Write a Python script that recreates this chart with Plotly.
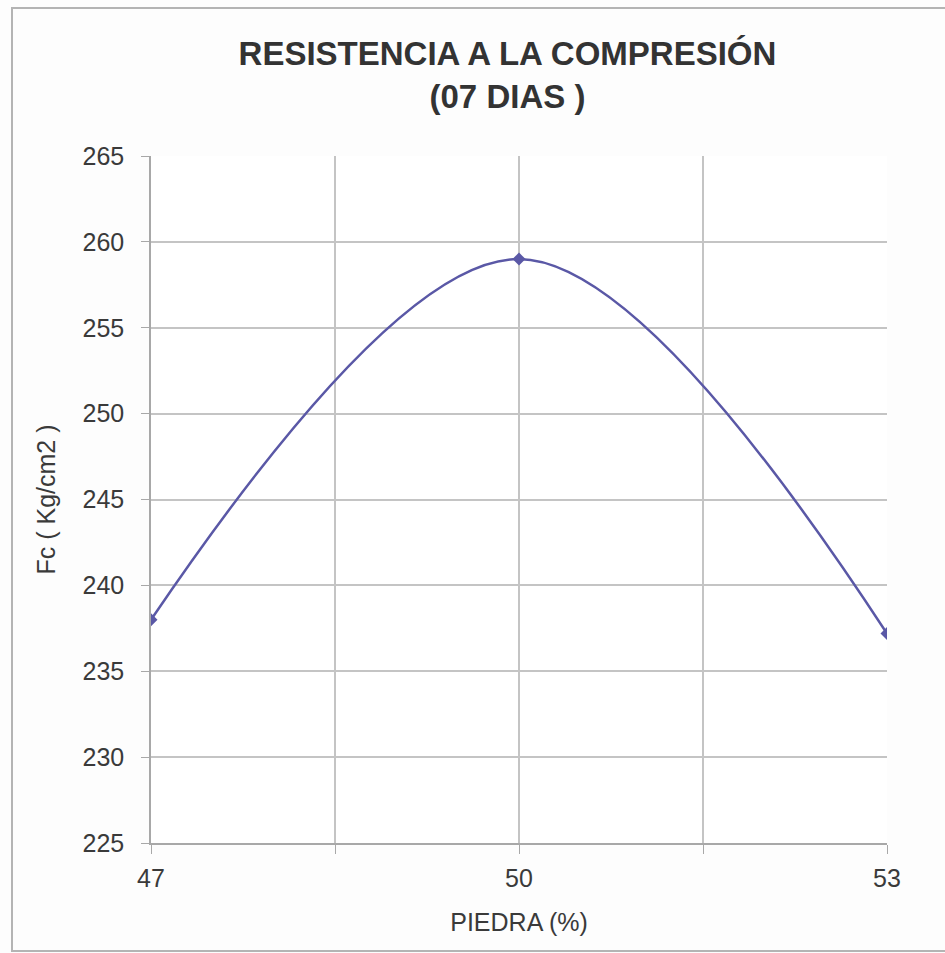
import plotly.graph_objects as go

piedra = [47, 50, 53]
fc = [238.0, 259.0, 237.2]
x_tickvals = [47, 48.5, 50, 51.5, 53]
x_ticktext = ["47", "", "50", "", "53"]
y_tickvals = [225, 230, 235, 240, 245, 250, 255, 260, 265]

title_text = "<b>RESISTENCIA A LA COMPRESIÓN<br>(07 DIAS )</b>"
x_title = "PIEDRA (%)"
y_title = "Fc ( Kg/cm2 )"

font_family = "Liberation Sans, Arial, sans-serif"
text_color = "#3a3a3a"
grid_color = "#c4c4c4"
line_color = "#5a58a6"

fig = go.Figure()
fig.add_trace(go.Scatter(
    x=piedra, y=fc, mode="lines+markers",
    line=dict(color=line_color, width=2.5, shape="spline", smoothing=1.0),
    marker=dict(symbol="diamond", size=10, color=line_color),
    showlegend=False,
))

fig.update_layout(
    width=945, height=953,
    margin=dict(l=151, r=58, t=156, b=110),
    paper_bgcolor="#fdfdfd",
    plot_bgcolor="#ffffff",
    font=dict(family=font_family, color=text_color, size=25),
    title=dict(
        text=title_text,
        x=0.537, xanchor="center",
        y=0.932, yanchor="top",
        font=dict(family=font_family, size=33, color="#333333"),
    ),
    xaxis=dict(
        range=[47, 53],
        tickmode="array", tickvals=x_tickvals, ticktext=x_ticktext,
        showgrid=True, gridcolor=grid_color, gridwidth=1.5,
        showline=True, linecolor="#a8a8a8", linewidth=1.5,
        ticks="outside", ticklen=9, tickcolor="#a8a8a8",
        ticklabelstandoff=3,
        zeroline=False,
        title=dict(text=x_title, font=dict(size=25), standoff=23),
        tickfont=dict(size=25),
    ),
    yaxis=dict(
        range=[225, 265],
        tickmode="array", tickvals=y_tickvals,
        showgrid=True, gridcolor=grid_color, gridwidth=1.5,
        showline=True, linecolor="#a8a8a8", linewidth=1.5,
        ticks="outside", ticklen=8, tickcolor="#a8a8a8",
        ticklabelstandoff=12,
        zeroline=False,
        title=dict(text=y_title, font=dict(size=25), standoff=20),
        tickfont=dict(size=25),
    ),
    shapes=[dict(
        type="rect", xref="paper", yref="paper",
        x0=(12 - 151) / 736, x1=(960 - 151) / 736,
        y0=(843 - 951) / 687, y1=(843 - 8) / 687,
        line=dict(color="#b4b4b4", width=2),
        fillcolor="rgba(0,0,0,0)", layer="below",
    )],
)

fig.write_html("out.html")
